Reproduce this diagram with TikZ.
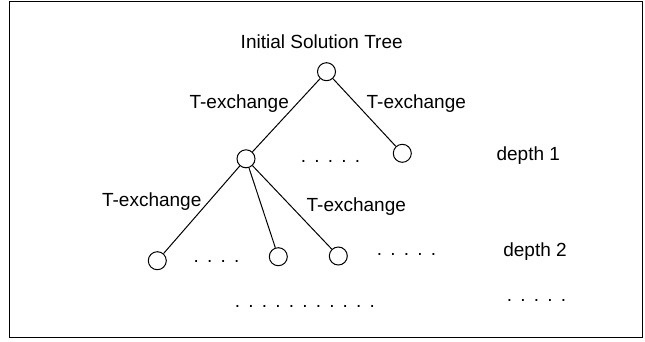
\documentclass[tikz,border=0pt]{standalone}
\usepackage{fontspec}
\setmainfont{Liberation Sans}
% dotted ellipsis rows: wider interword space between the periods
\newcommand\dotrowfont{\fontsize{19}{23}\selectfont\frenchspacing\spaceskip=8.2pt\relax\xspaceskip=8.2pt\relax}
\begin{document}
\begin{tikzpicture}[x=1pt,y=-1pt,
  treenode/.style={circle,draw,line width=1pt,minimum size=18pt,inner sep=0pt},
  edge/.style={line width=1pt},
  label/.style={font=\fontsize{19}{23}\selectfont,inner sep=0pt,anchor=base},
  dotrow/.style={font=\dotrowfont,inner sep=0pt,anchor=base west}]
  \useasboundingbox (0,0) rectangle (645,341);
  % outer frame
  \draw[line width=1.6pt] (9.5,1.5) rectangle (642.5,337.5);

  % tree nodes
  \node[treenode] (root) at (326.5,71.7) {};
  \node[treenode] (a) at (246,158.8) {};
  \node[treenode] (b) at (402.3,153.3) {};
  \node[treenode] (a1) at (157.3,260.7) {};
  \node[treenode] (a2) at (278.3,256.7) {};
  \node[treenode] (a3) at (338.3,256) {};

  % connectors
  \draw[edge] (root) -- (a);
  \draw[edge] (root) -- (b);
  \draw[edge] (a) -- (a1);
  \draw[edge] (a) -- (a2);
  \draw[edge] (a) -- (a3);

  % labels
  \node[label] (title) at (321.7,48.3) {Initial Solution Tree};
  \node[label] (t1) at (239.2,108.3) {T-exchange};
  \node[label] (t2) at (416.3,108.3) {T-exchange};
  \node[label] (t3) at (151.7,206) {T-exchange};
  \node[label] (t4) at (356.3,211.7) {T-exchange};
  \node[label] (d1) at (528.3,160.7) {depth 1};
  \node[label] (d2) at (535,256.7) {depth 2};

  % ellipsis rows
  \node[dotrow] (r1) at (300.7,162) {. . . . .};
  \node[dotrow] (r2a) at (193.4,262) {. . . .};
  \node[dotrow] (r2b) at (376.7,255.5) {. . . . .};
  \node[dotrow] (r3a) at (234.7,307.5) {. . . . . . . . . . .};
  \node[dotrow] (r3b) at (506.7,301.5) {. . . . .};
\end{tikzpicture}
\end{document}
